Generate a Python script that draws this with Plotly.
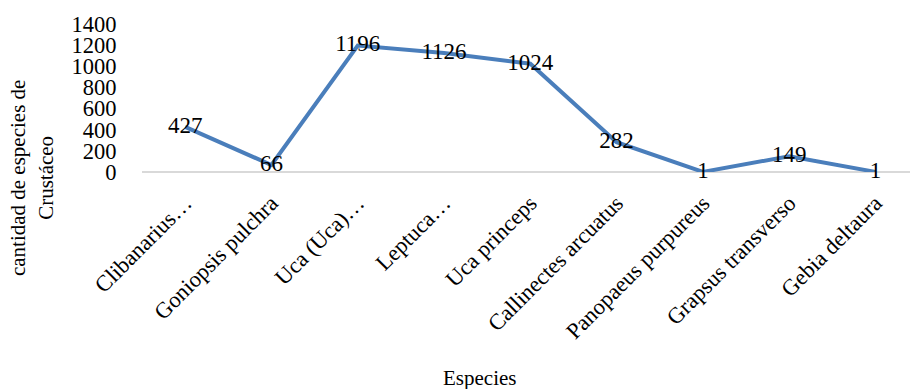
import plotly.graph_objects as go

especies = [
    "Clibanarius…",
    "Goniopsis pulchra",
    "Uca (Uca)…",
    "Leptuca…",
    "Uca princeps",
    "Callinectes arcuatus",
    "Panopaeus purpureus",
    "Grapsus transverso",
    "Gebia deltaura",
]
cantidad = [427, 66, 1196, 1126, 1024, 282, 1, 149, 1]
y_ticks = [0, 200, 400, 600, 800, 1000, 1200, 1400]

FONT = "Liberation Serif, Times New Roman, serif"
LINE = "#4a7ebb"

x_idx = list(range(len(especies)))

fig = go.Figure()
fig.add_trace(go.Scatter(
    x=x_idx,
    y=cantidad,
    mode="lines+text",
    line=dict(color=LINE, width=4),
    text=[str(v) for v in cantidad],
    textposition="middle center",
    textfont=dict(family=FONT, size=23, color="#000000"),
    cliponaxis=False,
    hoverinfo="skip",
))

fig.update_layout(
    width=910,
    height=389,
    margin=dict(l=142, r=0, t=24, b=217),
    paper_bgcolor="#ffffff",
    plot_bgcolor="#ffffff",
    showlegend=False,
    font=dict(family=FONT, size=22, color="#000000"),
    xaxis=dict(
        range=[-0.5, 8.4],
        tickmode="array",
        tickvals=x_idx,
        ticktext=especies,
        tickangle=-45,
        showgrid=False,
        zeroline=False,
        showline=False,
        ticks="outside",
        ticklen=8,
        tickcolor="rgba(0,0,0,0)",
        tickfont=dict(family=FONT, size=22.5, color="#000000"),
        fixedrange=True,
    ),
    yaxis=dict(
        range=[0, 1400],
        tickmode="array",
        tickvals=y_ticks,
        ticktext=[str(v) for v in y_ticks],
        showgrid=False,
        zeroline=True,
        zerolinecolor="#d9d9d9",
        zerolinewidth=2,
        showline=False,
        ticks="outside",
        ticklen=20,
        tickcolor="rgba(0,0,0,0)",
        tickfont=dict(family=FONT, size=22.5, color="#000000"),
        fixedrange=True,
    ),
    annotations=[
        dict(
            text="cantidad de especies de<br>Crustáceo",
            xref="paper", yref="paper",
            x=-0.143, y=-0.04,
            xanchor="center", yanchor="middle",
            textangle=-90,
            showarrow=False,
            font=dict(family=FONT, size=21, color="#000000"),
        ),
        dict(
            text="Especies",
            xref="paper", yref="paper",
            x=0.44, y=-1.39,
            xanchor="center", yanchor="middle",
            showarrow=False,
            font=dict(family=FONT, size=21, color="#000000"),
        ),
    ],
)

fig.write_html("out.html")
